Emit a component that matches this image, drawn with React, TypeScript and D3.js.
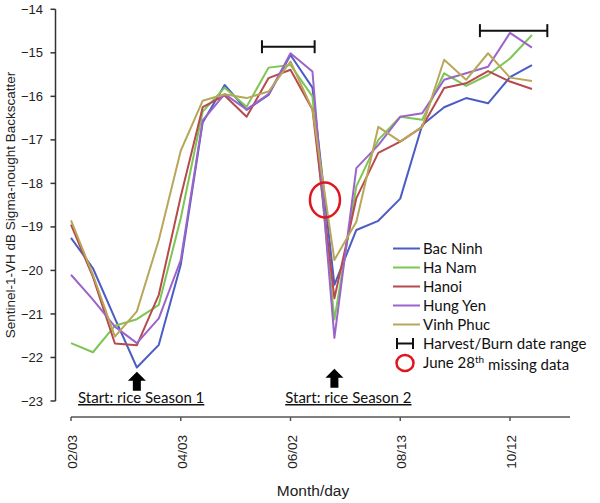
import React from "react";
import * as d3 from "d3";

const seriesNames = ["Bac Ninh", "Ha Nam", "Hanoi", "Hung Yen", "Vinh Phuc"];
const seriesColors = ["#4b5cc4", "#7cc653", "#b64a4c", "#9c64c8", "#b8a75a"];

const bacNinh = [-19.25, -19.95, -21.1, -22.23, -21.71, -19.87, -16.6, -15.74, -16.31, -15.97, -15.05, -15.8, -20.33, -19.07, -18.86, -18.35, -16.66, -16.25, -16.04, -16.16, -15.56, -15.28];
const haNam = [-21.67, -21.88, -21.27, -21.12, -20.79, -18.8, -16.35, -15.8, -16.24, -15.34, -15.28, -16.0, -21.13, -18.07, -17.0, -16.47, -16.54, -15.47, -15.76, -15.51, -15.13, -14.59];
const hanoi = [-18.95, -20.15, -21.68, -21.72, -20.56, -18.3, -16.25, -15.98, -16.47, -15.58, -15.39, -16.3, -20.64, -18.34, -17.3, -17.04, -16.7, -15.81, -15.7, -15.42, -15.66, -15.83];
const hungYen = [-20.1, -20.67, -21.29, -21.67, -21.1, -19.76, -16.55, -15.95, -16.3, -15.95, -15.01, -15.43, -21.55, -17.65, -17.12, -16.47, -16.39, -15.62, -15.47, -15.32, -14.54, -14.88];
const vinhPhuc = [-18.85, -20.1, -21.52, -20.94, -19.3, -17.25, -16.1, -15.95, -16.04, -15.89, -15.2, -16.3, -19.76, -18.88, -16.7, -17.04, -16.7, -15.16, -15.62, -15.01, -15.57, -15.65];

const seriesValues = [bacNinh, haNam, hanoi, hungYen, vinhPhuc];

const xTickIndex = [0, 5, 10, 15, 20];
const xTickLabels = ["02/03", "04/03", "06/02", "08/13", "10/12"];
const yTicks = [-23, -22, -21, -20, -19, -18, -17, -16, -15, -14];

// annotations in data units (index, value)
const harvestRanges = [
  { from: 8.7, to: 11.1, value: -14.86 },
  { from: 18.63, to: 21.7, value: -14.49 },
];
const missingMark = { index: 11.57, value: -18.38 };
const seasonStarts = [
  { index: 3, label: "Start: rice Season 1", labelIndex: 0.32 },
  { index: 12, label: "Start: rice Season 2", labelIndex: 9.76 },
];

export default function App() {
  const W = 600, H = 503;
  const x = d3.scaleLinear().domain([0, 20]).range([71, 510]);
  const y = d3.scaleLinear().domain([-23, -14]).range([401, 9.3]);
  const axisX = 55.5;
  const axisY = 417;
  const xAxisEnd = 570;
  const line = d3
    .line<number>()
    .x((_, i) => x(i))
    .y((d) => y(d));

  const sans = "'Liberation Sans', Arial, sans-serif";
  const cal = "Lato, 'Open Sans', sans-serif";

  const legendX = 393;
  const legendY0 = 248.5;
  const legendDy = 19;

  return (
    <svg
      width={W}
      height={H}
      style={{ position: "absolute", left: 0, top: 0, background: "#fff" }}
    >
      <rect width={W} height={H} fill="#fff" />
      {/* Y axis */}
      <line x1={axisX} x2={axisX} y1={y(-14)} y2={y(-23)} stroke="#333" strokeWidth={1.5} />
      {yTicks.map((t) => (
        <g key={t}>
          <line x1={axisX - 5} x2={axisX} y1={y(t)} y2={y(t)} stroke="#333" strokeWidth={1.5} />
          <text
            x={43}
            y={y(t)}
            dy="0.35em"
            textAnchor="end"
            fontFamily={sans}
            fontSize={13}
            fill="#222"
          >
            {"\u2212" + Math.abs(t)}
          </text>
        </g>
      ))}
      <text
        transform={`translate(15,205) rotate(-90)`}
        textAnchor="middle"
        fontFamily={sans}
        fontSize={13.5}
        fill="#222"
      >
        Sentinel-1-VH dB Sigma-nought Backscatter
      </text>

      {/* X axis */}
      <line x1={x(0)} x2={xAxisEnd} y1={axisY} y2={axisY} stroke="#555" strokeWidth={1.5} />
      {xTickIndex.map((t, i) => (
        <g key={t}>
          <line x1={x(t)} x2={x(t)} y1={axisY} y2={axisY + 4} stroke="#555" strokeWidth={1.5} />
          <text
            transform={`translate(${x(t) + 1.5},435) rotate(-90)`}
            textAnchor="end"
            dominantBaseline="central"
            fontFamily={sans}
            fontSize={13.5}
            fill="#222"
          >
            {xTickLabels[i]}
          </text>
        </g>
      ))}
      <text x={313} y={496} textAnchor="middle" fontFamily={sans} fontSize={15.5} fill="#222">
        Month/day
      </text>

      {/* series */}
      {seriesValues.map((vals, i) => (
        <path
          key={seriesNames[i]}
          d={line(vals) || ""}
          fill="none"
          stroke={seriesColors[i]}
          strokeWidth={2}
          strokeLinejoin="round"
        />
      ))}

      {/* harvest ranges */}
      {harvestRanges.map((r, i) => (
        <g key={i} stroke="#111" strokeWidth={2}>
          <line x1={x(r.from)} x2={x(r.to)} y1={y(r.value)} y2={y(r.value)} />
          <line x1={x(r.from)} x2={x(r.from)} y1={y(r.value) - 6.5} y2={y(r.value) + 6.5} />
          <line x1={x(r.to)} x2={x(r.to)} y1={y(r.value) - 6.5} y2={y(r.value) + 6.5} />
        </g>
      ))}

      {/* missing data ellipse */}
      <ellipse
        cx={x(missingMark.index)}
        cy={y(missingMark.value)}
        rx={15}
        ry={17.5}
        fill="none"
        stroke="#e0161d"
        strokeWidth={2.5}
      />

      {/* season start arrows and labels */}
      {seasonStarts.map((s, i) => {
        const cx = x(s.index);
        const tip = y(-22.33) + (i === 1 ? -3 : 0);
        const path = `M${cx},${tip} L${cx + 9},${tip + 9} L${cx + 4},${tip + 9} L${cx + 4},${tip + 19} L${cx - 4},${tip + 19} L${cx - 4},${tip + 9} L${cx - 9},${tip + 9} Z`;
        return (
          <g key={i}>
            <path d={path} fill="#000" />
            <text
              x={x(s.labelIndex)}
              y={403}
              fontFamily={cal}
              fontSize={15}
              fill="#111"
              textDecoration="underline"
            >
              {s.label}
            </text>
          </g>
        );
      })}

      {/* legend */}
      {seriesNames.map((n, i) => (
        <g key={n}>
          <line
            x1={legendX}
            x2={legendX + 27}
            y1={legendY0 + i * legendDy}
            y2={legendY0 + i * legendDy}
            stroke={seriesColors[i]}
            strokeWidth={2}
          />
          <text
            x={legendX + 30}
            y={legendY0 + i * legendDy}
            dy="0.35em"
            fontFamily={cal}
            fontSize={15}
            fill="#111"
          >
            {n}
          </text>
        </g>
      ))}
      <g stroke="#111" strokeWidth={2}>
        <line x1={397} x2={413} y1={legendY0 + 5 * legendDy} y2={legendY0 + 5 * legendDy} />
        <line x1={397} x2={397} y1={legendY0 + 5 * legendDy - 5.5} y2={legendY0 + 5 * legendDy + 5.5} />
        <line x1={413} x2={413} y1={legendY0 + 5 * legendDy - 5.5} y2={legendY0 + 5 * legendDy + 5.5} />
      </g>
      <text x={legendX + 30} y={legendY0 + 5 * legendDy} dy="0.35em" fontFamily={cal} fontSize={15} fill="#111">
        Harvest/Burn date range
      </text>
      <ellipse
        cx={405}
        cy={legendY0 + 6 * legendDy + 0.5}
        rx={8.5}
        ry={8}
        fill="none"
        stroke="#e0161d"
        strokeWidth={2.5}
      />
      <text x={legendX + 30} y={legendY0 + 6 * legendDy} dy="0.35em" fontFamily={cal} fontSize={15} fill="#111">
        June 28
        <tspan fontSize={10} dy="-0.5em">th</tspan>
        <tspan dy="0.5em"> missing data</tspan>
      </text>
    </svg>
  );
}
